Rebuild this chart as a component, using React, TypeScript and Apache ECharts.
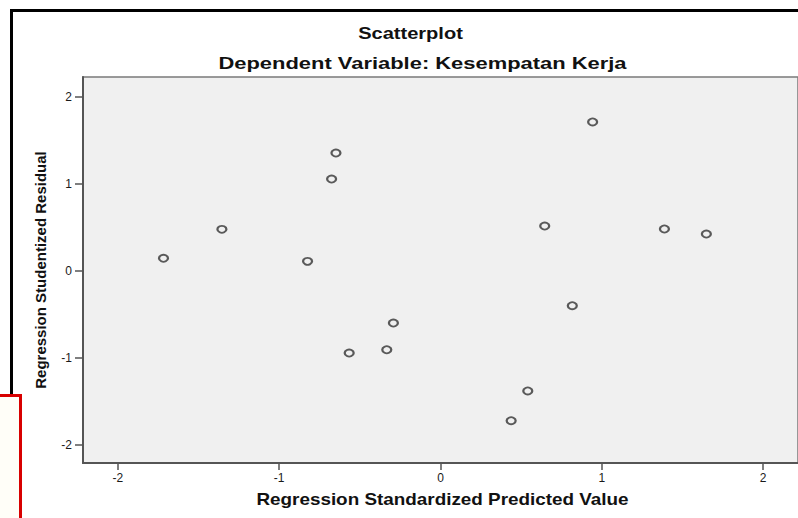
import React, { useEffect, useRef } from "react";
import * as echarts from "echarts";

const predictedValues = [-1.717, -1.355, -0.824, -0.648, -0.675, -0.566, -0.333, -0.292, 0.646, 0.817, 0.541, 0.438, 0.943, 1.388, 1.648];
const residualValues = [0.146, 0.479, 0.111, 1.356, 1.057, -0.943, -0.905, -0.598, 0.517, -0.399, -1.379, -1.721, 1.713, 0.483, 0.425];
const tickValues = [-2, -1, 0, 1, 2];

const titleText = "Scatterplot";
const subtitleText = "Dependent Variable: Kesempatan Kerja";
const xName = "Regression Standardized Predicted Value";
const yName = "Regression Studentized Residual";

const FONT = "'Liberation Sans', Arial, sans-serif";

export default function App() {
  const ref = useRef<HTMLDivElement>(null);
  useEffect(() => {
    document.body.style.margin = "0";
    const chart = echarts.init(ref.current!, null, { renderer: "svg" });
    const points = predictedValues.map((x, i) => [x, residualValues[i]]);
    chart.setOption({
      animation: false,
      backgroundColor: "#ffffff",
      grid: {
        left: 83,
        top: 77,
        width: 717,
        height: 386,
        show: true,
        backgroundColor: "#f0f0f0",
        borderColor: "#7a7a7a",
        borderWidth: 1.5,
      },
      xAxis: {
        type: "value",
        min: -2.216,
        max: 2.216,
        splitLine: { show: false },
        axisLine: { show: true, onZero: false, lineStyle: { color: "#555", width: 2 } },
        axisTick: { show: true, length: 7, customValues: tickValues, lineStyle: { color: "#555", width: 1.5 } },
        axisLabel: {
          customValues: tickValues,
          margin: 9,
          color: "#1a1a1a",
          fontSize: 12,
          fontFamily: FONT,
        },
      },
      yAxis: {
        type: "value",
        min: -2.207,
        max: 2.23,
        splitLine: { show: false },
        axisLine: { show: true, onZero: false, lineStyle: { color: "#555", width: 2 } },
        axisTick: { show: true, length: 8, customValues: tickValues, lineStyle: { color: "#555", width: 1.5 } },
        axisLabel: {
          customValues: tickValues,
          margin: 11,
          color: "#1a1a1a",
          fontSize: 12,
          fontFamily: FONT,
        },
      },
      series: [
        {
          type: "scatter",
          data: points,
          symbol: "circle",
          symbolSize: [9, 7],
          itemStyle: { color: "rgba(0,0,0,0)", borderColor: "#333", borderWidth: 2 },
          emphasis: { disabled: true },
        },
      ],
      graphic: [
        {
          type: "rect",
          shape: { x: 11.5, y: 10.5, width: 900, height: 600 },
          style: { fill: "none", stroke: "#000", lineWidth: 3 },
          silent: true,
          z: 100,
        },
        {
          type: "rect",
          shape: { x: -5, y: 395.5, width: 25.5, height: 200 },
          style: { fill: "#fffef8", stroke: "#d80000", lineWidth: 3 },
          silent: true,
          z: 101,
        },
        {
          type: "text",
          x: 410.5,
          y: 33,
          scaleX: 1.18,
          style: {
            text: titleText,
            fontSize: 17,
            fontWeight: "bold",
            fontFamily: FONT,
            fill: "#111",
            align: "center",
            verticalAlign: "middle",
          },
          silent: true,
        },
        {
          type: "text",
          x: 422.5,
          y: 63,
          scaleX: 1.29,
          style: {
            text: subtitleText,
            fontSize: 17,
            fontWeight: "bold",
            fontFamily: FONT,
            fill: "#111",
            align: "center",
            verticalAlign: "middle",
          },
          silent: true,
        },
        {
          type: "text",
          x: 442.5,
          y: 500,
          scaleX: 1.18,
          style: {
            text: xName,
            fontSize: 16,
            fontWeight: "bold",
            fontFamily: FONT,
            fill: "#111",
            align: "center",
            verticalAlign: "middle",
          },
          silent: true,
        },
        {
          type: "text",
          x: 40,
          y: 270,
          rotation: Math.PI / 2,
          style: {
            text: yName,
            fontSize: 15,
            fontWeight: "bold",
            fontFamily: FONT,
            fill: "#111",
            align: "center",
            verticalAlign: "middle",
          },
          silent: true,
        },
      ],
    });
    return () => chart.dispose();
  }, []);
  return <div ref={ref} style={{ width: 798, height: 518 }} />;
}
